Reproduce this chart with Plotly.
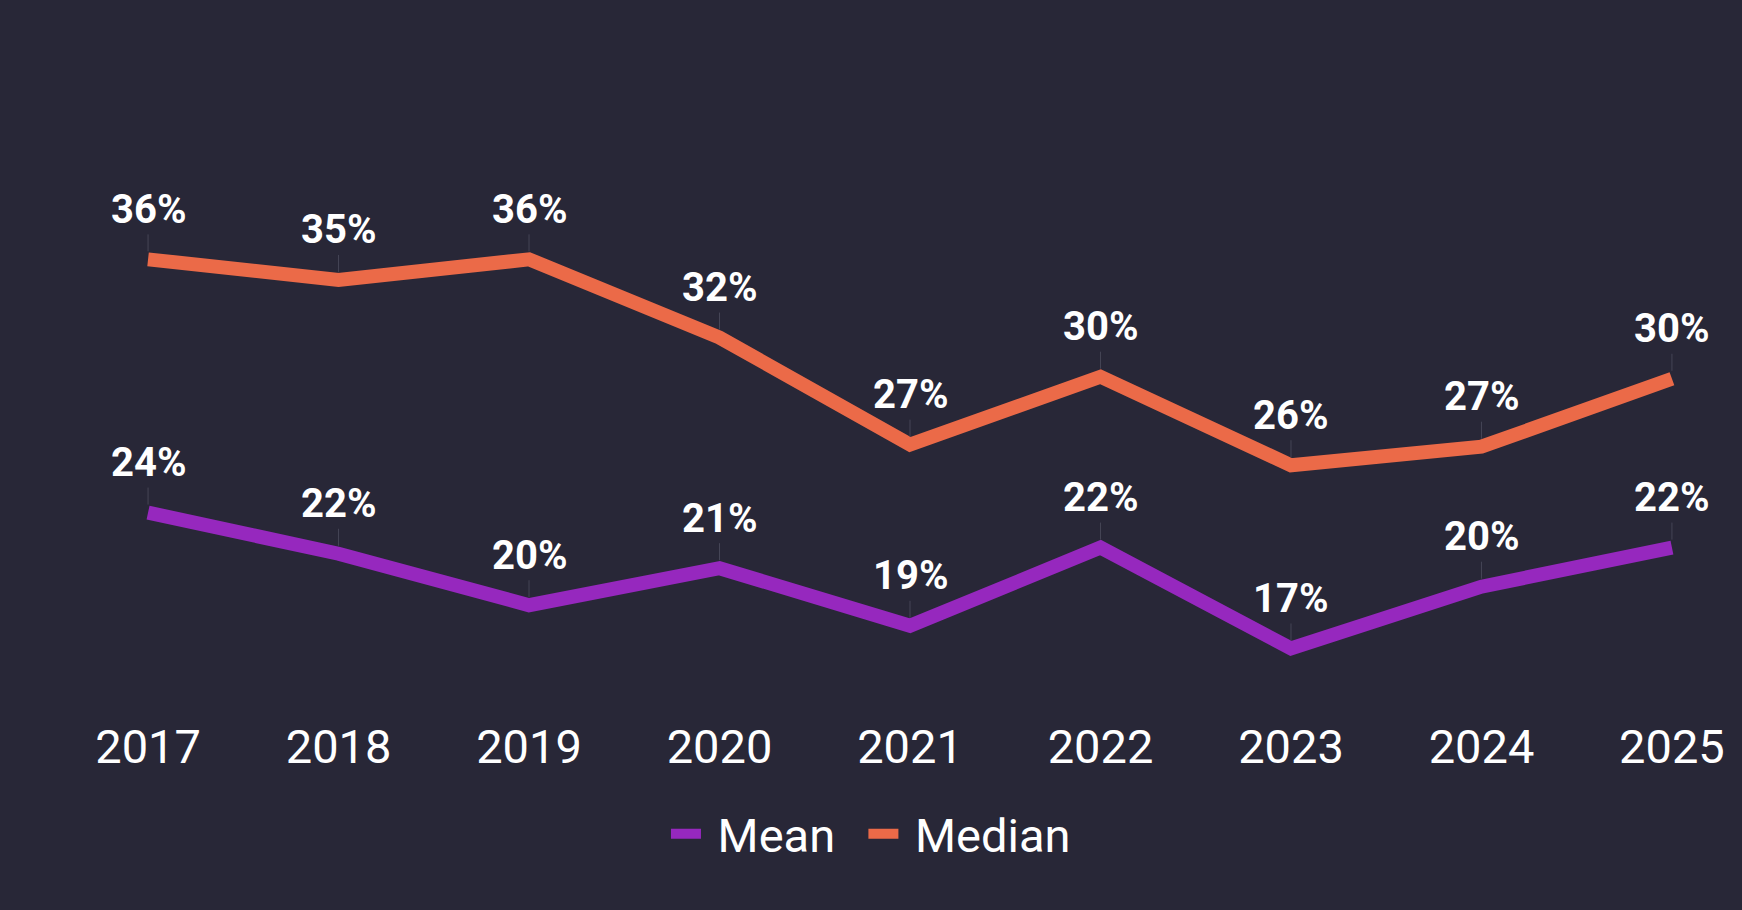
import plotly.graph_objects as go

# data
years = [2017, 2018, 2019, 2020, 2021, 2022, 2023, 2024, 2025]
mean_vals = [23.7, 21.7, 19.2, 21.0, 18.2, 22.0, 17.1, 20.1, 22.0]
median_vals = [36.0, 35.0, 36.0, 32.2, 27.0, 30.3, 26.0, 26.9, 30.2]
mean_labels = ["24%", "22%", "20%", "21%", "19%", "22%", "17%", "20%", "22%"]
median_labels = ["36%", "35%", "36%", "32%", "27%", "30%", "26%", "27%", "30%"]

BG = "#282737"
MEAN_COLOR = "#9628BE"
MEDIAN_COLOR = "#EB6A48"
FONT = "Roboto"

fig = go.Figure()
fig.add_trace(go.Scatter(x=years, y=mean_vals, name=" Mean\u00a0\u00a0", mode="lines",
                         line=dict(color=MEAN_COLOR, width=14)))
fig.add_trace(go.Scatter(x=years, y=median_vals, name=" Median", mode="lines",
                         line=dict(color=MEDIAN_COLOR, width=14)))

# value labels with thin connector stems down to the line
annotations = []
for vals, labels in [(mean_vals, mean_labels), (median_vals, median_labels)]:
    for x, v, t in zip(years, vals, labels):
        annotations.append(dict(
            x=x, y=v, xref="x", yref="y", text=t,
            showarrow=True, arrowhead=0, arrowwidth=1, arrowcolor="#454556",
            ax=0, ay=-50, standoff=8,
            font=dict(family=FONT, size=40, color="white", weight="bold"),
        ))

fig.update_layout(
    width=1742, height=910,
    paper_bgcolor=BG, plot_bgcolor=BG,
    margin=dict(l=129, r=51, t=177, b=208),
    font=dict(family=FONT, color="white"),
    annotations=annotations,
    showlegend=True,
    legend=dict(orientation="h", x=0.475, xanchor="center", y=-0.252, yanchor="middle",
                font=dict(family=FONT, size=47, color="white"),
                itemwidth=30, bgcolor="rgba(0,0,0,0)"),
    xaxis=dict(range=[2016.9, 2025.1], tickmode="array", tickvals=years,
               ticktext=[str(y) for y in years], showgrid=False, zeroline=False,
               showline=False, ticklabelstandoff=13,
               tickfont=dict(family=FONT, size=47, color="white")),
    yaxis=dict(range=[14.5, 40], visible=False, showgrid=False, zeroline=False),
)

fig.write_html("out.html", config={"displayModeBar": False},
               post_script="document.body.style.margin='0';")
